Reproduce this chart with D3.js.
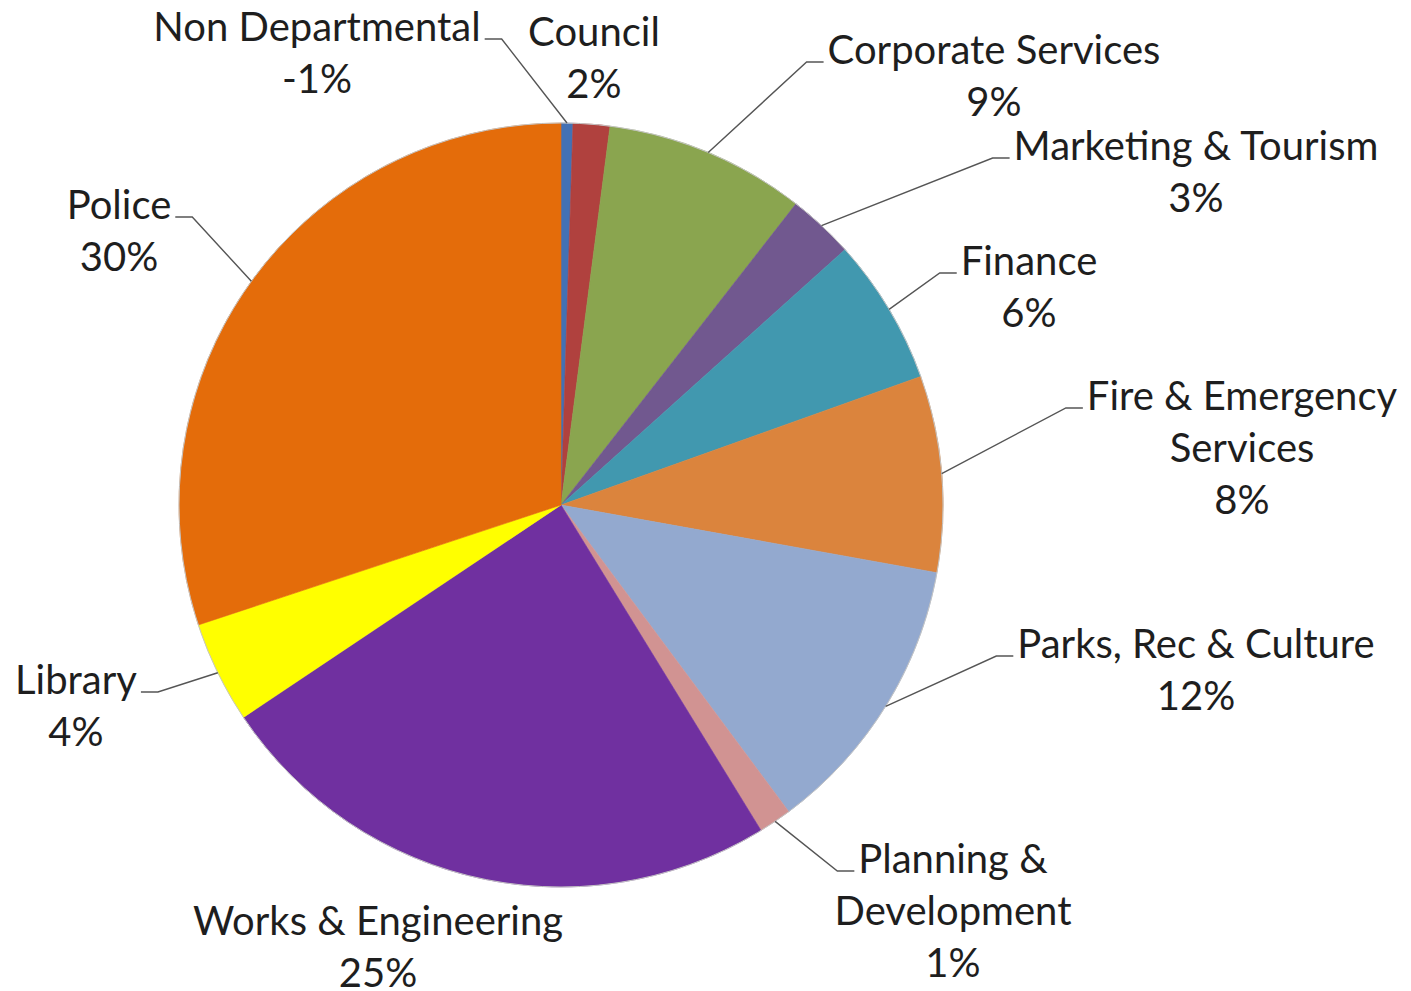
<!DOCTYPE html>
<html>
<head>
<meta charset="utf-8">
<script src="https://cdn.jsdelivr.net/npm/d3@7"></script>
<style>
  html, body { margin: 0; padding: 0; background: #fff; }
  svg { display: block; }
  text { font-family: Lato, "Open Sans", sans-serif; fill: #1e1e1e; }
</style>
</head>
<body>
<svg id="chart" width="1411" height="991"></svg>
<script>
// Budget share by department (percent; Non Departmental is a net credit)
const departments = [
  "Non Departmental", "Council", "Corporate Services", "Marketing & Tourism",
  "Finance", "Fire & Emergency Services", "Parks, Rec & Culture",
  "Planning & Development", "Works & Engineering", "Library", "Police"
];
const shares = [-0.5, 1.55, 8.5, 2.8, 6.2, 8.3, 12.0, 1.4, 24.4, 4.3, 30.1];
const sliceColors = [
  "#4371b4", "#b0413e", "#8aa54f", "#71588f", "#4198af", "#db843d",
  "#93a9cf", "#d19392", "#7030a0", "#ffff00", "#e46c0a"
];
// How each category name is broken across lines in its label
const labelLines = [
  ["Non Departmental"], ["Council"], ["Corporate Services"], ["Marketing & Tourism"],
  ["Finance"], ["Fire & Emergency", "Services"], ["Parks, Rec & Culture"],
  ["Planning &", "Development"], ["Works & Engineering"], ["Library"], ["Police"]
];

// Label placement: centre x and first baseline y, plus which side the leader attaches to
const labelLayout = [
  { x: 317,  y: 41,  leader: "right" },
  { x: 594,  y: 46,  leader: null },
  { x: 994,  y: 64,  leader: "left" },
  { x: 1196, y: 160, leader: "left" },
  { x: 1029, y: 275, leader: "left" },
  { x: 1242, y: 410, leader: "left" },
  { x: 1196, y: 658, leader: "left" },
  { x: 953,  y: 873, leader: "left" },
  { x: 378,  y: 935, leader: null },
  { x: 76,   y: 694, leader: "right" },
  { x: 119,  y: 219, leader: "right" }
];

const cx = 561, cy = 505, radius = 382;
const fontSize = 40, lineStep = 52;

const data = departments.map((name, i) => ({
  name, value: shares[i], color: sliceColors[i], lines: labelLines[i], layout: labelLayout[i]
}));
const signedTotal = d3.sum(shares);
const pctLabel = v => Math.round(v / signedTotal * 100) + "%";

const svg = d3.select("#chart");
const g = svg.append("g").attr("transform", `translate(${cx},${cy})`);

const pie = d3.pie().sort(null).value(d => Math.abs(d.value));
const arc = d3.arc().innerRadius(0).outerRadius(radius);
const arcs = pie(data);

g.selectAll("path.slice")
  .data(arcs)
  .join("path")
  .attr("class", "slice")
  .attr("d", arc)
  .attr("fill", d => d.data.color)
  .attr("stroke", d => d.data.color)
  .attr("stroke-width", 0.6);

// thin grey rim
g.append("circle")
  .attr("r", radius)
  .attr("fill", "none")
  .attr("stroke", "#c4c4c4")
  .attr("stroke-width", 1);

// Labels
const labelG = svg.append("g");
arcs.forEach(a => {
  const d = a.data, L = d.layout;
  const lines = d.lines.concat([pctLabel(d.value)]);
  const t = labelG.append("text")
    .attr("text-anchor", "middle")
    .attr("font-size", fontSize);
  lines.forEach((s, k) => {
    t.append("tspan").attr("x", L.x).attr("y", L.y + k * lineStep).text(s);
  });

  if (!L.leader) return;
  const firstWidth = t.select("tspan").node().getComputedTextLength();
  const ly = L.y - 2;
  let x0, x1;
  if (L.leader === "left") {
    x1 = L.x - firstWidth / 2 - 4;
    x0 = x1 - 17;
  } else {
    x1 = L.x + firstWidth / 2 + 4;
    x0 = x1 + 17;
  }
  const mid = (a.startAngle + a.endAngle) / 2;
  const px = cx + radius * Math.sin(mid);
  const py = cy - radius * Math.cos(mid);
  labelG.append("polyline")
    .attr("points", `${x1},${ly} ${x0},${ly} ${px},${py}`)
    .attr("fill", "none")
    .attr("stroke", "#555")
    .attr("stroke-width", 1.4);
});
</script>
</body>
</html>
